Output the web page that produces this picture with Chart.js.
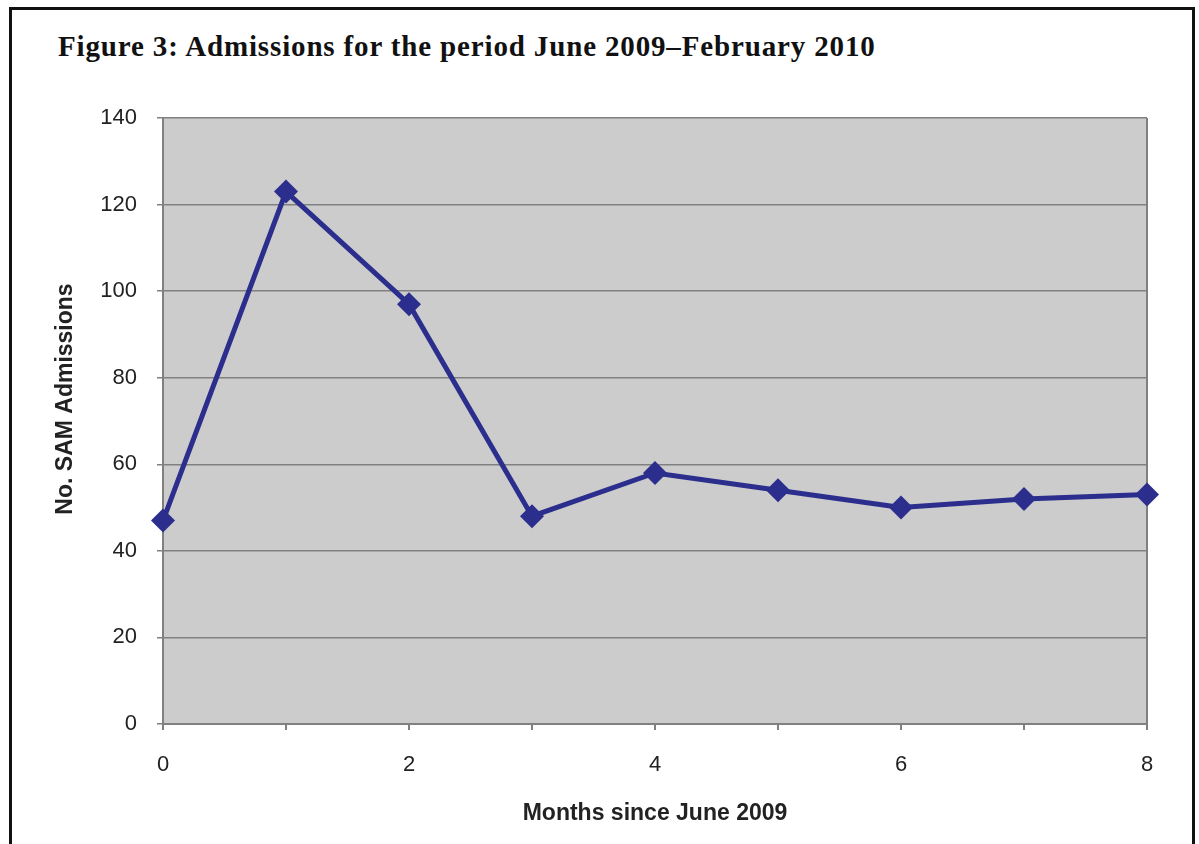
<!DOCTYPE html>
<html>
<head>
<meta charset="utf-8">
<script src="https://cdn.jsdelivr.net/npm/chart.js@4.4.0/dist/chart.umd.min.js"></script>
<style>
  html, body { margin: 0; padding: 0; background: #fff; overflow: hidden; }
  #frame {
    position: absolute; left: 9px; top: 7px; width: 1186px; height: 900px;
    border: 3px solid #111; box-sizing: border-box;
  }
  #title {
    position: absolute; left: 58px; top: 30px;
    font-family: "Liberation Serif", "DejaVu Serif", serif; font-weight: bold;
    font-size: 29px; letter-spacing: 0.85px; color: #111; white-space: nowrap;
  }
  #wrap { position: absolute; left: 0; top: 0; width: 1199px; height: 844px; }
</style>
</head>
<body>
<div id="frame"></div>
<div id="title">Figure 3: Admissions for the period June 2009–February 2010</div>
<div id="wrap"><canvas id="chart"></canvas></div>
<script>
// Months since June 2009 and SAM admissions per month
const months = [0, 1, 2, 3, 4, 5, 6, 7, 8];
const admissions = [47, 123, 97, 48, 58, 54, 50, 52, 53];

const xTitle = 'Months since June 2009';
const yTitle = 'No. SAM Admissions';
const axisFont = 'Liberation Sans, Arial, sans-serif';

// Gray plot background
const plotBg = {
  id: 'plotBg',
  beforeDraw(chart) {
    const { ctx, chartArea: a } = chart;
    ctx.save();
    ctx.fillStyle = '#cccccc';
    ctx.fillRect(a.left, a.top, a.right - a.left, a.bottom - a.top);
    ctx.restore();
  }
};

// right edge of the plot box
const rightEdge = {
  id: 'rightEdge',
  beforeDatasetsDraw(chart) {
    const { ctx, chartArea: a } = chart;
    ctx.save();
    ctx.strokeStyle = '#808080';
    ctx.lineWidth = 2;
    ctx.beginPath();
    ctx.moveTo(a.right, a.top);
    ctx.lineTo(a.right, a.bottom + 6);
    ctx.stroke();
    ctx.restore();
  }
};

// y axis title sits a bit above the plot centre in the original
const yAxisTitle = {
  id: 'yAxisTitle',
  afterDraw(chart) {
    const { ctx, chartArea: a } = chart;
    ctx.save();
    ctx.translate(66, (a.top + a.bottom) / 2 - 22);
    ctx.rotate(-Math.PI / 2);
    ctx.font = 'bold 23px ' + axisFont;
    ctx.fillStyle = '#222';
    ctx.textAlign = 'center';
    ctx.textBaseline = 'middle';
    ctx.fillText(yTitle, 0, 0);
    ctx.restore();
  }
};

const ctx = document.getElementById('chart').getContext('2d');
new Chart(ctx, {
  type: 'line',
  data: {
    datasets: [{
      label: 'Admissions',
      data: months.map((m, i) => ({ x: m, y: admissions[i] })),
      borderColor: '#2b2e8c',
      backgroundColor: '#2b2e8c',
      borderWidth: 5,
      pointStyle: 'rectRot',
      pointRadius: 12,
      pointBorderWidth: 0,
      tension: 0,
      clip: false
    }]
  },
  options: {
    responsive: true,
    maintainAspectRatio: false,
    animation: false,
    layout: { padding: { left: 30, top: 118, right: 52, bottom: 0 } },
    plugins: { legend: { display: false }, tooltip: { enabled: false } },
    scales: {
      x: {
        type: 'linear',
        min: 0, max: 8,
        ticks: {
          stepSize: 1,
          autoSkip: false,
          maxRotation: 0,
          padding: 22,
          color: '#222',
          font: { family: axisFont, size: 22 },
          callback: v => (v % 2 === 0 ? v : '')
        },
        grid: { drawOnChartArea: false, drawTicks: true, tickLength: 6, color: '#808080', lineWidth: 2 },
        border: { color: '#808080', width: 2 },
        title: {
          display: true, text: xTitle, color: '#222',
          font: { family: axisFont, size: 23, weight: 'bold' },
          padding: { top: 17, bottom: 17 }
        },
        afterFit: s => { s.height = 120; }
      },
      y: {
        min: 0, max: 140,
        ticks: {
          stepSize: 20,
          padding: 20,
          color: '#222',
          font: { family: axisFont, size: 22 }
        },
        grid: { color: '#808080', lineWidth: 1.5, tickLength: 6 },
        border: { color: '#808080', width: 2 },
        title: { display: false },
        afterFit: s => { s.width = 133; }
      }
    }
  },
  plugins: [plotBg, rightEdge, yAxisTitle]
});
</script>
</body>
</html>
